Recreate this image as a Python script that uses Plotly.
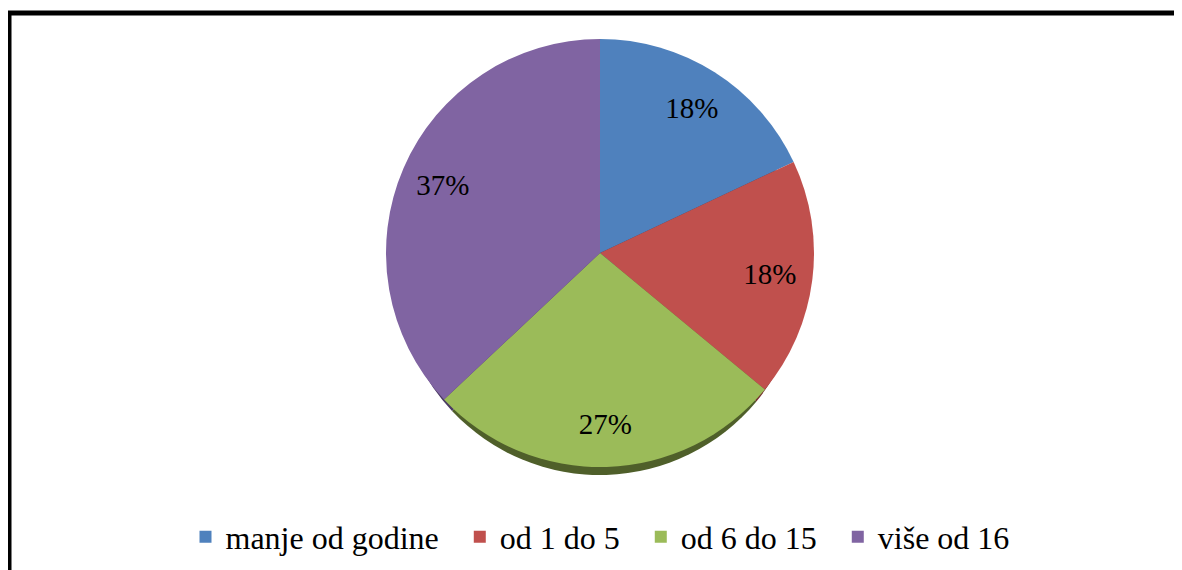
import plotly.graph_objects as go

# Data
categories = ["manje od godine", "od 1 do 5", "od 6 do 15", "više od 16"]
shares = [18, 18, 27, 37]

# Office 2007 palette + darker tones for the 3D rim
colors = ["#4F81BD", "#C0504D", "#9BBB59", "#8064A2"]
rim_colors = ["#2B4A72", "#74302E", "#4F5F2A", "#4A3A62"]

W, H = 1182, 570
OFF = 8                      # page body margin the figure sits inside
cx, cy, r = 600 - OFF, 253 - OFF, 214   # pie centre / radius in figure px
rim_shrink, rim_drop = 11, 19  # rim pie: smaller and lower, peeks out at the bottom only


def domain(dy=0, dr=0):
    rr = r - dr
    return dict(
        x=[(cx - rr) / W, (cx + rr) / W],
        y=[(H - cy - dy - rr) / H, (H - cy - dy + rr) / H],
    )


# widen the gaps between legend entries like the original
pad = "\u00a0" * 2
legend_labels = [c + pad for c in categories[:-1]] + categories[-1:]

fig = go.Figure()

# rim (drawn first, sits underneath)
fig.add_trace(go.Pie(
    labels=[c + " rim" for c in categories],
    values=shares,
    sort=False,
    direction="clockwise",
    marker=dict(colors=rim_colors, line=dict(width=0)),
    textinfo="none",
    hoverinfo="skip",
    showlegend=False,
    domain=domain(rim_drop, rim_shrink),
))

# main pie
fig.add_trace(go.Pie(
    labels=legend_labels,
    values=shares,
    sort=False,
    direction="clockwise",
    marker=dict(colors=colors, line=dict(width=0)),
    textinfo="none",
    hovertemplate="%{label}: %{percent:.0%}<extra></extra>",
    domain=domain(),
))

# transparent ring on top, only to place the percentage labels further out
fig.add_trace(go.Pie(
    labels=[c + " txt" for c in categories],
    values=shares,
    sort=False,
    direction="clockwise",
    hole=0.6,
    marker=dict(colors=["rgba(0,0,0,0)"] * len(shares), line=dict(width=0)),
    texttemplate="%{percent:.0%}",
    textposition="inside",
    insidetextorientation="horizontal",
    textfont=dict(family="Liberation Serif", size=29, color="black"),
    hoverinfo="skip",
    showlegend=False,
    domain=domain(),
))

# frame around the chart
fig.add_shape(
    type="rect", xref="paper", yref="paper",
    x0=(9 - OFF) / W, x1=1.02, y0=-0.02, y1=1 - (13 - OFF) / H,
    line=dict(color="black", width=5),
)

fig.update_layout(
    width=W, height=H,
    margin=dict(l=0, r=0, t=0, b=0),
    paper_bgcolor="white",
    plot_bgcolor="white",
    font=dict(family="Liberation Serif", color="black"),
    legend=dict(
        orientation="h",
        x=(600 - OFF) / W, xanchor="center",
        y=1 - (537 - OFF) / H, yanchor="middle",
        font=dict(family="Liberation Serif", size=32, color="black"),
        traceorder="normal",
    ),
)

fig.write_html("out.html")
